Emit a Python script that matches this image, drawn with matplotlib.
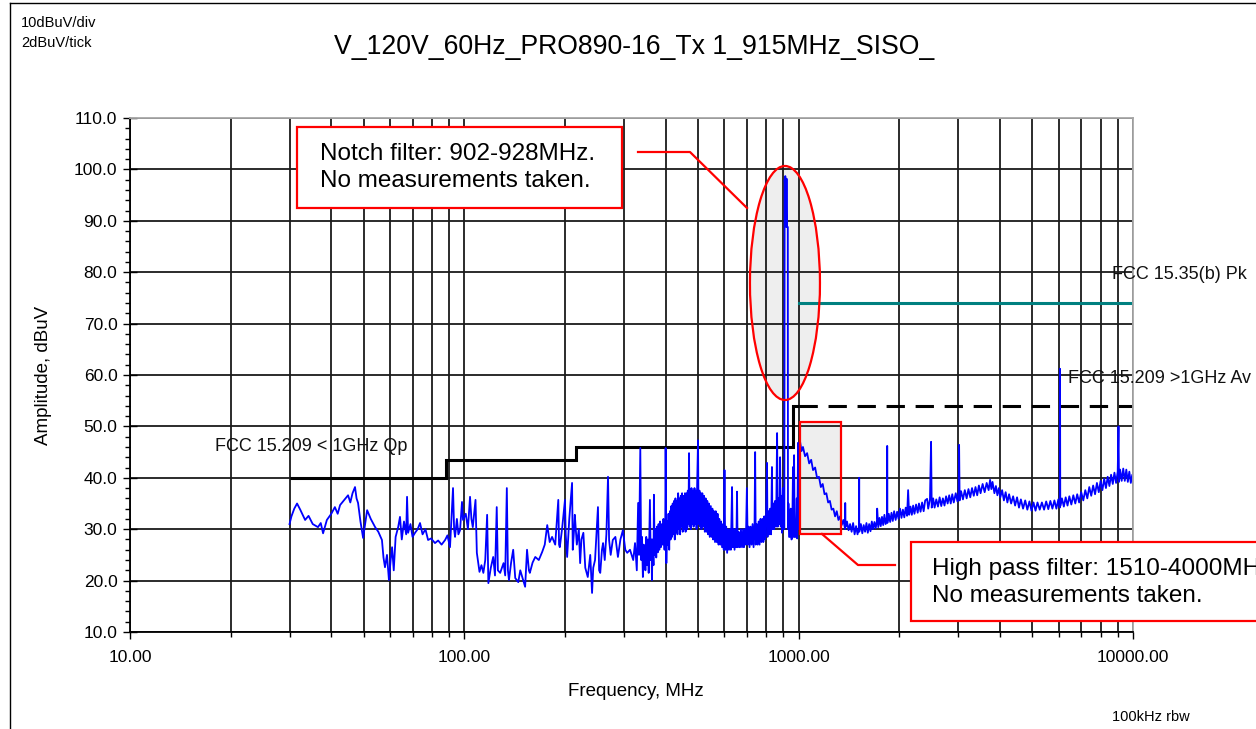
import matplotlib
matplotlib.use("Agg")
import matplotlib.pyplot as plt
from matplotlib.patches import Ellipse, Rectangle
from matplotlib.lines import Line2D
from matplotlib.ticker import FixedLocator, MultipleLocator, NullFormatter, LogLocator

plt.rcParams['font.family'] = ['Liberation Sans', 'DejaVu Sans']

# ---- data ----
TITLE = "V_120V_60Hz_PRO890-16_Tx 1_915MHz_SISO_"

x_ticks = [10, 100, 1000, 10000]
x_ticklabels = ["10.00", "100.00", "1000.00", "10000.00"]
y_ticks = [10, 20, 30, 40, 50, 60, 70, 80, 90, 100, 110]
y_ticklabels = ["10.0", "20.0", "30.0", "40.0", "50.0", "60.0",
                "70.0", "80.0", "90.0", "100.0", "110.0"]

# FCC 15.209 < 1GHz quasi-peak limit (MHz edges, dBuV levels)
qp_edges = [30, 88, 216, 960, 1000]
qp_levels = [40.0, 43.5, 46.0, 54.0]
# FCC 15.209 > 1GHz average limit
av_mhz = [1000, 10000]
av_dbuv = [54.0, 54.0]
# FCC 15.35(b) peak limit
pk_mhz = [1000, 10000]
pk_dbuv = [74.0, 74.0]

# measured trace (MHz, dBuV)
trace_pts = [
    # 30 - 100 MHz
    (30.0, 31.0), (30.4, 32.5), (31.0, 34.0), (31.6, 35.0), (32.3, 33.8), (33.4, 31.8),
    (34.2, 32.6), (35.2, 31.0), (36.5, 30.4), (37.2, 31.2), (37.8, 29.2), (38.8, 31.8),
    (40.0, 33.0), (41.0, 34.3), (41.8, 33.0), (42.5, 34.7), (43.5, 35.5), (44.9, 36.6),
    (45.6, 35.2), (46.3, 37.0), (47.1, 38.2), (47.6, 36.0), (48.1, 35.1), (48.9, 31.5),
    (49.8, 28.3), (50.5, 31.0), (51.2, 33.7), (52.5, 32.0), (54.1, 30.4), (55.3, 29.5),
    (56.7, 27.9), (57.3, 24.5), (57.9, 22.6), (58.7, 25.0), (59.5, 20.1), (60.2, 24.0),
    (60.8, 26.5), (61.5, 22.0), (62.3, 28.5), (63.4, 30.4), (64.2, 32.4), (65.0, 28.0),
    (66.0, 31.5), (67.0, 29.0), (67.4, 36.3), (67.9, 29.3), (69.0, 31.0), (70.0, 28.5),
    (71.2, 29.3), (72.5, 30.0), (73.7, 31.2), (75.0, 29.0), (76.5, 30.0), (77.9, 27.9),
    (79.5, 28.2), (81.7, 27.3), (83.5, 27.8), (85.5, 27.0), (87.6, 27.9), (89.0, 28.8),
    (90.6, 26.5), (91.5, 32.0), (92.5, 38.0), (93.2, 30.0), (93.8, 28.5), (95.0, 32.0),
    (96.0, 29.0), (97.1, 29.8), (98.4, 35.3), (99.1, 31.8),
    # 100 - 340 MHz
    (101, 33.0), (102.5, 30.0), (104, 36.3), (105, 32.0), (106, 30.4), (108, 35.7),
    (109, 25.4), (111, 21.7), (112.5, 23.0), (114, 21.5), (115.5, 24.0), (117, 32.8),
    (118, 19.5), (120, 22.5), (122, 24.6), (123.5, 21.0), (125, 34.3), (126, 22.0),
    (128, 21.5), (131, 23.4), (132.5, 21.0), (134, 38.0), (135, 22.0), (136, 20.1),
    (138, 23.5), (140, 26.0), (142, 20.5), (145, 19.7), (147, 22.0), (150, 20.1),
    (152, 18.8), (154, 26.0), (156, 22.0), (157, 21.5), (160, 23.5), (163, 24.6),
    (167, 24.0), (171, 25.6), (174, 27.0), (177, 30.8), (180, 27.5), (183, 28.5),
    (187, 27.0), (191, 35.7), (192, 27.0), (193, 26.5), (196, 30.0), (200, 35.7),
    (201, 29.0), (203, 24.6), (206, 32.0), (210, 39.0), (211, 26.0), (213, 30.0),
    (214, 32.8), (217, 27.0), (220, 30.0), (222, 23.4), (224, 28.0), (227, 29.3),
    (230, 22.5), (234, 20.7), (238, 25.0), (241, 17.6), (243, 22.5), (246, 24.0),
    (248, 28.0), (251, 34.3), (253, 22.0), (255, 21.5), (258, 26.0), (260, 27.3),
    (263, 24.0), (266, 29.0), (269, 40.2), (271, 27.9), (274, 25.0), (278, 27.9),
    (283, 28.5), (288, 24.6), (293, 28.0), (298, 29.8), (303, 26.0), (307, 25.4),
    (313, 26.0), (320, 24.0), (324, 27.3), (328, 22.0), (331, 35.1), (333, 25.0),
    (336, 45.8), (338, 24.0),
    # 340 - 902 MHz (dense band)
    (340, 28.5), (342, 20.7), (344, 27.0), (346, 26.0), (348, 22.0), (350, 28.5),
    (352, 23.0), (354, 28.0), (356, 21.5), (359, 35.7), (361, 24.0), (363, 28.0),
    (364, 20.1), (366, 28.0), (368, 23.0), (369, 36.7), (371, 25.0), (373, 30.0),
    (375, 24.5), (377, 30.5), (379, 25.5), (381, 31.0), (383, 26.0), (385, 31.5),
    (387, 26.5), (390, 31.0), (392, 27.0), (394, 32.0), (397, 26.0), (399, 31.0),
    (400, 45.8), (402, 23.4), (404, 31.5), (406, 27.0), (408, 33.0), (410, 26.0),
    (412, 33.5), (414, 28.0), (416, 34.5), (418, 28.5), (420, 35.0), (422, 29.0),
    (424, 35.5), (426, 28.0), (428, 36.0), (430, 29.5), (432, 35.5), (434, 29.0),
    (436, 37.0), (438, 30.0), (440, 36.0), (442, 29.0), (444, 36.5), (446, 30.5),
    (448, 37.0), (450, 29.5), (452, 36.5), (454, 30.0), (457, 37.0), (459, 29.5),
    (462, 37.0), (464, 30.0), (466, 37.5), (468, 31.0), (470, 44.8), (472, 30.5),
    (474, 37.5), (476, 30.0), (478, 38.0), (480, 31.0), (483, 37.5), (485, 30.5),
    (488, 38.0), (490, 31.0), (493, 37.5), (495, 30.0), (497, 38.5), (500, 47.3),
    (502, 31.0), (505, 37.5), (507, 30.5), (510, 37.0), (512, 30.0), (515, 37.0),
    (518, 30.5), (521, 36.5), (524, 29.5), (527, 36.0), (530, 29.5), (533, 35.5),
    (536, 29.0), (539, 35.0), (542, 28.5), (546, 34.5), (549, 28.5), (552, 34.0),
    (555, 28.0), (558, 33.5), (562, 27.5), (565, 33.5), (569, 27.5), (572, 33.0),
    (576, 27.0), (579, 32.0), (583, 27.0), (586, 31.5), (590, 26.5), (594, 31.0),
    (597, 26.0), (600, 41.5), (603, 26.0), (607, 30.5), (611, 25.4), (615, 30.0),
    (619, 26.0), (623, 30.0), (627, 26.0), (632, 38.2), (635, 26.5), (639, 30.0),
    (643, 26.0), (647, 30.0), (651, 26.5), (654, 37.3), (657, 26.5), (661, 29.5),
    (665, 26.5), (668, 26.5), (672, 30.0), (677, 26.5), (682, 30.0), (686, 26.5),
    (690, 30.0), (695, 27.0), (700, 38.0), (704, 27.0), (708, 30.5), (713, 26.5),
    (718, 30.5), (723, 27.0), (728, 31.0), (733, 26.5), (738, 31.0), (741, 45.0),
    (744, 27.0), (749, 31.0), (754, 27.0), (759, 31.5), (764, 27.0), (769, 32.0),
    (774, 27.5), (779, 32.0), (784, 27.5), (789, 32.5), (794, 28.0), (799, 33.0),
    (804, 42.9), (807, 28.5), (812, 33.5), (817, 29.0), (822, 34.0), (827, 29.0),
    (832, 42.1), (835, 30.0), (840, 35.0), (845, 30.0), (850, 35.5), (856, 30.5),
    (862, 48.7), (866, 30.5), (871, 36.0), (876, 31.0), (880, 44.0), (884, 30.5),
    (888, 36.5), (892, 29.3), (897, 38.0), (900, 30.0), (902, 30.0),
    # 902 - 928 MHz carrier
    (906, 30.0), (908, 98.0), (910, 97.0), (912, 98.7), (914, 89.0), (916, 98.0),
    (918, 88.8), (920, 98.2), (922, 88.8), (928, 88.8), (929, 30.0),
    # 930 - 1000 MHz
    (932, 35.0), (936, 28.5), (942, 28.5), (947, 34.0), (952, 28.0), (956, 28.5),
    (962, 42.1), (965, 28.5), (969, 44.4), (973, 28.5), (976, 28.5), (982, 28.5),
    (987, 36.0), (990, 28.2), (996, 46.8), (1000, 30.0),
    # 1 - 1.3 GHz roll-off
    (1010, 47.0), (1020, 45.2), (1030, 46.0), (1045, 44.2), (1060, 44.8), (1075, 42.8),
    (1090, 43.5), (1104, 41.5), (1120, 42.0), (1135, 40.0), (1150, 40.2), (1165, 38.2),
    (1180, 38.8), (1195, 36.8), (1210, 37.0), (1225, 35.2), (1240, 35.5), (1255, 33.8),
    (1270, 34.0), (1285, 32.5),
    # 1.3 - 10 GHz
    (1300, 33.5), (1315, 31.8), (1330, 32.5), (1345, 30.8), (1360, 31.8), (1377, 30.0),
    (1378, 35.1), (1380, 30.4), (1395, 31.5), (1410, 29.8), (1425, 31.0), (1440, 29.5),
    (1455, 31.2), (1470, 29.0), (1485, 30.6), (1500, 29.0), (1516, 30.5), (1517, 40.0),
    (1518, 29.5), (1535, 31.0), (1550, 29.2), (1565, 30.8), (1580, 29.5), (1595, 31.2),
    (1610, 29.3), (1625, 31.0), (1640, 29.6), (1655, 31.5), (1670, 30.0), (1685, 31.4),
    (1700, 30.2), (1716, 31.8), (1717, 34.0), (1730, 30.4), (1745, 32.2), (1760, 30.6),
    (1775, 32.4), (1790, 30.8), (1805, 32.8), (1820, 31.0), (1839, 32.6), (1840, 46.2),
    (1842, 31.2), (1860, 33.0), (1878, 31.4), (1895, 33.2), (1912, 31.6), (1930, 33.5),
    (1950, 31.8), (1970, 33.4), (1990, 32.0), (2010, 34.0), (2030, 32.2), (2050, 33.8),
    (2070, 32.3), (2090, 34.2), (2110, 32.6), (2125, 37.6), (2140, 32.8), (2160, 34.4),
    (2180, 32.8), (2200, 34.6), (2220, 33.0), (2245, 34.8), (2270, 33.2), (2290, 35.0),
    (2315, 33.4), (2340, 35.2), (2365, 33.5), (2390, 35.6), (2422, 35.9), (2440, 34.0),
    (2470, 35.8), (2489, 47.0), (2500, 34.2), (2525, 36.0), (2550, 34.2), (2580, 35.8),
    (2610, 34.4), (2640, 36.2), (2670, 34.5), (2700, 36.0), (2730, 34.6), (2760, 36.4),
    (2790, 35.0), (2820, 36.6), (2850, 35.0), (2880, 36.8), (2910, 35.2), (2950, 37.0),
    (2985, 35.4), (3010, 37.2), (3019, 46.4), (3030, 35.6), (3060, 37.4), (3100, 35.8),
    (3140, 37.6), (3180, 36.0), (3220, 37.8), (3260, 36.2), (3300, 38.0), (3340, 36.5),
    (3380, 38.2), (3420, 36.6), (3460, 38.5), (3500, 37.0), (3550, 38.8), (3600, 37.2),
    (3650, 39.0), (3700, 37.6), (3737, 39.6), (3770, 37.8), (3800, 39.2), (3850, 37.0),
    (3890, 38.4), (3930, 36.6), (3970, 38.0), (4010, 36.2), (4060, 37.6), (4110, 35.6),
    (4160, 37.2), (4210, 35.2), (4260, 36.8), (4320, 35.0), (4380, 36.4), (4440, 34.6),
    (4500, 36.2), (4560, 34.2), (4620, 35.8), (4690, 34.0), (4760, 35.6), (4830, 33.8),
    (4900, 35.4), (4970, 33.6), (5040, 35.2), (5110, 33.6), (5180, 35.2), (5260, 33.8),
    (5340, 35.2), (5420, 33.8), (5500, 35.4), (5580, 33.9), (5660, 35.5), (5740, 34.0),
    (5820, 35.6), (5900, 34.0), (5980, 35.8), (6040, 34.2), (6050, 61.2), (6060, 34.5),
    (6130, 36.0), (6210, 34.4), (6290, 36.2), (6370, 34.6), (6450, 36.4), (6540, 34.8),
    (6630, 36.6), (6720, 35.0), (6810, 36.8), (6900, 35.2), (7000, 37.2), (7100, 35.6),
    (7200, 37.6), (7300, 36.0), (7400, 38.2), (7500, 36.5), (7600, 38.5), (7700, 36.8),
    (7800, 39.0), (7900, 37.2), (8000, 39.4), (8100, 37.6), (8200, 39.8), (8300, 38.0),
    (8400, 40.2), (8500, 38.4), (8600, 40.6), (8700, 38.8), (8800, 41.0), (8900, 39.0),
    (9000, 41.2), (9050, 50.0), (9080, 39.2), (9150, 41.6), (9250, 39.4), (9350, 41.8),
    (9450, 39.4), (9550, 41.6), (9650, 39.2), (9750, 41.2), (9850, 39.0), (9950, 40.6),
    (10000, 39.2),
]
trace_mhz = [p[0] for p in trace_pts]
trace_dbuv = [p[1] for p in trace_pts]

W, H = 1256, 729
def fx(x):  # pixel -> figure fraction
    return x / W
def fy(y):
    return 1 - y / H

fig = plt.figure(figsize=(W / 100, H / 100), dpi=100)
ax = fig.add_axes([fx(130), fy(632), (1133 - 130) / W, (632 - 118) / H])
ax.set_axisbelow('line')

ax.set_xscale('log')
ax.set_xlim(10, 10000)
ax.set_ylim(10, 110)

ax.xaxis.set_major_locator(FixedLocator(x_ticks))
ax.set_xticklabels(x_ticklabels)
ax.xaxis.set_minor_locator(LogLocator(base=10, subs=range(2, 10)))
ax.xaxis.set_minor_formatter(NullFormatter())
ax.yaxis.set_major_locator(FixedLocator(y_ticks))
ax.set_yticklabels(y_ticklabels)
ax.yaxis.set_minor_locator(MultipleLocator(2))

ax.grid(which='major', color='#1a1a1a', lw=1.3)
ax.grid(which='minor', axis='x', color='#1a1a1a', lw=1.3)

for s in ['top', 'right']:
    ax.spines[s].set_color('#a8a8a8')
    ax.spines[s].set_linewidth(1.3)
for s in ['left', 'bottom']:
    ax.spines[s].set_color('black')
    ax.spines[s].set_linewidth(1.3)

ax.tick_params(axis='y', which='major', direction='inout', length=10, width=1,
               labelsize=12.5, pad=4)
ax.tick_params(axis='y', which='minor', direction='out', length=3.6, width=1)
ax.tick_params(axis='x', which='major', direction='out', length=5, width=1,
               labelsize=12.5, pad=8)
ax.tick_params(axis='x', which='minor', direction='out', length=3.6, width=1)

# annotation shapes (fill below grid, outline on top)
ell_kw = dict(xy=(0.653, 0.679), width=0.0698, height=0.4553, transform=ax.transAxes)
ax.add_patch(Ellipse(facecolor='#eeeeee', edgecolor='none', zorder=1, **ell_kw))
ax.add_patch(Ellipse(facecolor='none', edgecolor='#ff0000', lw=1.6, zorder=3, **ell_kw))
rect_kw = dict(xy=(0.668, 0.1907), width=0.0409, height=0.2179, transform=ax.transAxes)
ax.add_patch(Rectangle(facecolor='#eeeeee', edgecolor='none', zorder=1, **rect_kw))
ax.add_patch(Rectangle(facecolor='none', edgecolor='#ff0000', lw=1.6, zorder=3, **rect_kw))

# limit lines
ax.stairs(qp_levels, qp_edges, baseline=None, color='black', lw=2.2, zorder=2)
ax.plot(av_mhz, av_dbuv, color='black', lw=2.2, dashes=(6, 3.5), zorder=2)
ax.plot(pk_mhz, pk_dbuv, color='#008080', lw=2.2, zorder=2)

# measured trace
ax.plot(trace_mhz, trace_dbuv, color='#0000ff', lw=1.3, zorder=2.5)

ax.text(17.96, 46.0, "FCC 15.209 < 1GHz Qp", fontsize=13, va='center', color='#111111')
ax.text(8657, 79.5, "FCC 15.35(b) Pk", fontsize=13, va='center', color='#111111', clip_on=False)
ax.text(6397, 59.4, "FCC 15.209 >1GHz Av", fontsize=13, va='center', color='#111111', clip_on=False)

# callout boxes
fig.add_artist(Rectangle((fx(297), fy(208)), 325 / W, 81 / H, transform=fig.transFigure,
                         facecolor='white', edgecolor='#ff0000', lw=1.6, zorder=5))
fig.text(fx(320), fy(160), "Notch filter: 902-928MHz.", fontsize=17.5, va='baseline', zorder=6)
fig.text(fx(320), fy(187), "No measurements taken.", fontsize=17.5, va='baseline', zorder=6)
fig.add_artist(Line2D([fx(638), fx(690), fx(747)], [fy(152), fy(152), fy(208)],
                      transform=fig.transFigure, color='#ff0000', lw=1.6, zorder=5))

# this box runs off the right edge of the page, as in the original
fig.add_artist(Rectangle((fx(911), fy(621)), 400 / W, 79 / H, transform=fig.transFigure,
                         facecolor='white', edgecolor='#ff0000', lw=1.6, zorder=5))
fig.text(fx(932), fy(575), "High pass filter: 1510-4000MHz", fontsize=17.5, va='baseline', zorder=6)
fig.text(fx(932), fy(602), "No measurements taken.", fontsize=17.5, va='baseline', zorder=6)
fig.add_artist(Line2D([fx(822), fx(858), fx(895)], [fy(534), fy(565), fy(565)],
                      transform=fig.transFigure, color='#ff0000', lw=1.6, zorder=5))

# page texts
fig.text(fx(634), fy(47), TITLE, fontsize=19.2, ha='center', va='center')
fig.text(fx(21), fy(23), "10dBuV/div", fontsize=10.5, va='center')
fig.text(fx(21), fy(43), "2dBuV/tick", fontsize=10.5, va='center')
fig.text(fx(43), fy(375), "Amplitude, dBuV", fontsize=13.5, rotation=90, ha='center', va='center')
fig.text(fx(636), fy(692), "Frequency, MHz", fontsize=13.5, ha='center', va='center')
fig.text(fx(1151), fy(717), "100kHz rbw", fontsize=10.5, ha='center', va='center')

# page frame
fig.add_artist(Line2D([fx(10), fx(10)], [0, fy(3)], transform=fig.transFigure, color='black', lw=1))
fig.add_artist(Line2D([fx(10), 1], [fy(3), fy(3)], transform=fig.transFigure, color='black', lw=1))

fig.savefig("out.png", dpi=100)
